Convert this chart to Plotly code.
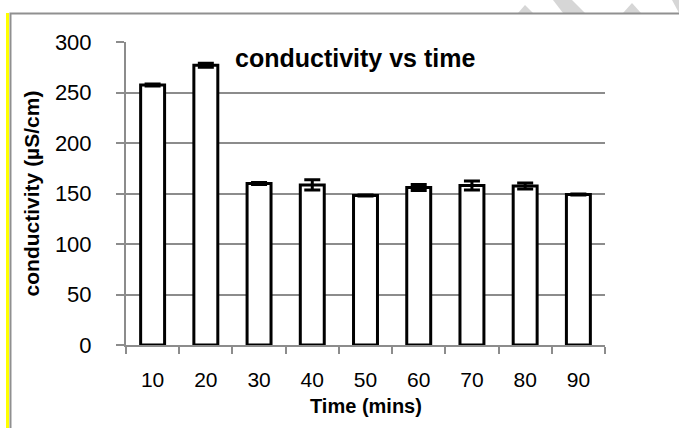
import plotly.graph_objects as go

times = ["10", "20", "30", "40", "50", "60", "70", "80", "90"]
conductivity = [257.5, 277, 160, 158.5, 148, 156, 158, 157.5, 149]
errors = [1, 2, 1, 5, 0.5, 3, 4.5, 3, 0.5]
y_ticks = [0, 50, 100, 150, 200, 250, 300]

W, H = 679, 428
L, R, T, B = 126, 74, 42, 83
pw, ph = W - L - R, H - T - B

def px(x):
    return (x - L) / pw

def py(y):
    return (H - B - y) / ph

def path(points, close=True):
    s = "M " + " L ".join(f"{px(a):.5f},{py(b):.5f}" for a, b in points)
    return s + (" Z" if close else "")

FONT = "Liberation Sans Narrow, Arial Narrow, Liberation Sans, Arial"
GRAY = "#8c8c8c"
WM = "#d6d6d6"

fig = go.Figure()
fig.add_trace(go.Bar(
    x=times, y=conductivity,
    marker=dict(color="white", line=dict(color="black", width=3)),
    error_y=dict(type="data", array=errors, visible=True, color="black", thickness=3, width=8),
    width=0.45,
    hoverinfo="skip",
))

shapes = []
for pts in [[(518, 13), (525, 5), (533, 13)],
            [(553, 0), (572, 0), (585, 13), (563, 13)],
            [(623, 13), (632, 3), (641, 13)],
            [(672, 0), (679, 0), (679, 13)]]:
    shapes.append(dict(type="path", xref="paper", yref="paper", path=path(pts),
                       fillcolor=WM, line=dict(width=0)))
shapes.append(dict(type="rect", xref="paper", yref="paper",
                   x0=px(6), x1=px(9), y0=py(440), y1=py(13),
                   fillcolor="#ffff00", line=dict(width=0)))
shapes.append(dict(type="path", xref="paper", yref="paper",
                   path=path([(10.5, 440), (10.5, 13.5), (690, 13.5)], close=False),
                   line=dict(color="#909090", width=2)))

fig.update_layout(
    width=W, height=H,
    margin=dict(l=L, r=R, t=T, b=B),
    paper_bgcolor="white", plot_bgcolor="white",
    showlegend=False,
    font=dict(family=FONT, color="black", size=22),
    xaxis=dict(
        type="category", range=[-0.5, 8.5],
        showline=True, linecolor=GRAY, linewidth=2,
        ticks="outside", tickson="boundaries", ticklen=7, tickcolor=GRAY, tickwidth=2,
        ticklabelstandoff=15,
        tickfont=dict(size=21, family=FONT),
        showgrid=False,
    ),
    yaxis=dict(
        range=[0, 300], tickvals=y_ticks, ticktext=[str(v) for v in y_ticks],
        showline=True, linecolor=GRAY, linewidth=2,
        ticks="outside", ticklen=8, tickcolor=GRAY, tickwidth=2,
        ticklabelstandoff=20,
        showgrid=True, gridcolor=GRAY, gridwidth=2,
        zeroline=False,
        tickfont=dict(size=22, family=FONT),
        title=dict(text="<b>conductivity (µS/cm)</b>", font=dict(size=21, family=FONT), standoff=10),
    ),
    annotations=[
        dict(text="<b>conductivity vs time</b>", xref="paper", yref="paper",
             x=px(233), y=py(58), xanchor="left", yanchor="middle",
             showarrow=False, font=dict(size=25, family=FONT, color="black")),
        dict(text="<b>Time (mins)</b>", xref="paper", yref="paper",
             x=0.5, y=py(406), xanchor="center", yanchor="middle",
             showarrow=False, font=dict(size=20, family=FONT, color="black")),
    ],
    shapes=shapes,
)

fig.write_html("out.html", config={"displayModeBar": False},
               post_script="document.body.style.margin='0';")
